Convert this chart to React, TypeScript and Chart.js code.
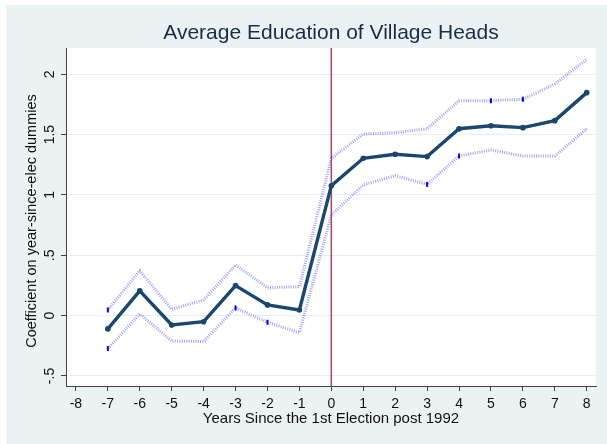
import React, { useEffect, useRef } from "react";
import { Chart, registerables } from "chart.js";

Chart.register(...registerables);

// Event-study coefficients by years since the first election after 1992
const years = [-7, -6, -5, -4, -3, -2, -1, 0, 1, 2, 3, 4, 5, 6, 7, 8];
const coef = [-0.11, 0.205, -0.077, -0.05, 0.249, 0.089, 0.047, 1.077, 1.304, 1.337, 1.318, 1.549, 1.574, 1.558, 1.616, 1.848];
const upperCI = [0.047, 0.373, 0.053, 0.13, 0.42, 0.232, 0.24, 1.304, 1.505, 1.516, 1.549, 1.781, 1.781, 1.793, 1.92, 2.124];
const lowerCI = [-0.273, 0.014, -0.21, -0.215, 0.064, -0.055, -0.141, 0.834, 1.083, 1.16, 1.088, 1.323, 1.373, 1.323, 1.323, 1.549];

// Vertices of the confidence bands that carry a small tick mark
const upperMarks = [-7, 5, 6];
const lowerMarks = [-7, -3, -2, 3, 4];

const xTicks = [-8, -7, -6, -5, -4, -3, -2, -1, 0, 1, 2, 3, 4, 5, 6, 7, 8];
const yTicks = [-0.5, 0, 0.5, 1, 1.5, 2];
const yTickLabels = ["-.5", "0", ".5", "1", "1.5", "2"];
const electionYear = 0;

const chartTitle = "Average Education of Village Heads";
const xTitle = "Years Since the 1st Election post 1992";
const yTitle = "Coefficient on year-since-elec dummies";

const FONT = '"Liberation Sans", Arial, Helvetica, sans-serif';
const NAVY = "#1a476f";
const BAND = "rgba(70, 70, 255, 0.5)";
const PANEL = "#eaf2f3";

const toPoints = (vals: number[]) => years.map((x, i) => ({ x, y: vals[i] }));
const markRadius = (marks: number[]) => years.map((x) => (marks.includes(x) ? 2.5 : 0));

const decorations = {
  id: "decorations",
  beforeDraw(chart: any) {
    const { ctx, chartArea, width, height } = chart;
    ctx.save();
    ctx.fillStyle = "#ffffff";
    ctx.fillRect(0, 0, width, height);
    ctx.fillStyle = PANEL;
    ctx.fillRect(6, 5, width - 6, height - 5);
    ctx.fillStyle = "#ffffff";
    ctx.fillRect(chartArea.left, chartArea.top, chartArea.right - chartArea.left, chartArea.bottom - chartArea.top);
    ctx.restore();
  },
  beforeDatasetsDraw(chart: any) {
    const { ctx, chartArea, scales } = chart;
    const px = scales.x.getPixelForValue(electionYear);
    ctx.save();
    ctx.strokeStyle = "#c8385a";
    ctx.lineWidth = 1.5;
    ctx.beginPath();
    ctx.moveTo(px, chartArea.top);
    ctx.lineTo(px, chartArea.bottom);
    ctx.stroke();
    ctx.restore();
  },
  afterDraw(chart: any) {
    const { ctx, chartArea, scales } = chart;
    const cx = (chartArea.left + chartArea.right) / 2;
    const cy = (chartArea.top + chartArea.bottom) / 2;
    ctx.save();
    ctx.textAlign = "center";
    ctx.textBaseline = "middle";

    // title
    ctx.fillStyle = "#1c2b4a";
    ctx.font = `21px ${FONT}`;
    ctx.fillText(chartTitle, cx, 33);

    // rotated y tick labels
    ctx.fillStyle = "#111111";
    ctx.font = `14px ${FONT}`;
    yTicks.forEach((v, i) => {
      const py = scales.y.getPixelForValue(v);
      ctx.save();
      ctx.translate(chartArea.left - 16, py);
      ctx.rotate(-Math.PI / 2);
      ctx.fillText(yTickLabels[i], 0, 0);
      ctx.restore();
    });

    // axis titles
    ctx.font = `15px ${FONT}`;
    ctx.fillText(xTitle, cx, 419);
    ctx.save();
    ctx.translate(32, cy + 4);
    ctx.rotate(-Math.PI / 2);
    ctx.font = `14.5px ${FONT}`;
    ctx.fillText(yTitle, 0, 0);
    ctx.restore();

    ctx.restore();
  },
};

export default function App() {
  const canvasRef = useRef<HTMLCanvasElement | null>(null);

  useEffect(() => {
    document.body.style.margin = "0";
    const canvas = canvasRef.current;
    if (!canvas) return;

    const chart = new Chart(canvas, {
      type: "line",
      data: {
        datasets: [
          {
            label: "Upper CI",
            data: toPoints(upperCI),
            borderColor: BAND,
            borderWidth: 3,
            borderDash: [1, 1.3],
            pointStyle: "line",
            rotation: 90,
            pointRadius: markRadius(upperMarks),
            pointBorderColor: "#0000ff",
            pointBorderWidth: 2,
            order: 2,
          },
          {
            label: "Lower CI",
            data: toPoints(lowerCI),
            borderColor: BAND,
            borderWidth: 3,
            borderDash: [1, 1.3],
            pointStyle: "line",
            rotation: 90,
            pointRadius: markRadius(lowerMarks),
            pointBorderColor: "#0000ff",
            pointBorderWidth: 2,
            order: 2,
          },
          {
            label: "Coefficient",
            data: toPoints(coef),
            borderColor: NAVY,
            borderWidth: 3.4,
            pointRadius: 2.8,
            pointBackgroundColor: NAVY,
            pointBorderWidth: 0,
            order: 1,
          },
        ],
      },
      options: {
        responsive: false,
        animation: false,
        devicePixelRatio: 1,
        events: [],
        layout: { padding: { top: 48, right: 11, left: 0, bottom: 0 } },
        plugins: {
          legend: { display: false },
          title: { display: false },
          tooltip: { enabled: false },
        },
        scales: {
          x: {
            type: "linear",
            min: -8.31,
            max: 8.29,
            afterBuildTicks: (scale: any) => {
              scale.ticks = xTicks.map((value) => ({ value }));
            },
            afterFit: (scale: any) => {
              scale.height = 58;
            },
            grid: {
              drawOnChartArea: false,
              drawTicks: true,
              tickLength: 5,
              tickColor: "#444444",
            },
            border: { display: true, color: "#444444", width: 1 },
            ticks: {
              autoSkip: false,
              maxRotation: 0,
              padding: 5,
              color: "#111111",
              font: { family: FONT, size: 14 },
              callback: (v: any) => String(v),
            },
          },
          y: {
            type: "linear",
            min: -0.583,
            max: 2.218,
            afterBuildTicks: (scale: any) => {
              scale.ticks = yTicks.map((value) => ({ value }));
            },
            afterFit: (scale: any) => {
              scale.width = 66;
            },
            grid: {
              color: "#e6eef1",
              lineWidth: 1,
              drawTicks: true,
              tickLength: 5,
              tickColor: "#444444",
            },
            border: { display: true, color: "#444444", width: 1 },
            ticks: { display: false },
          },
        },
      },
      plugins: [decorations],
    });

    return () => chart.destroy();
  }, []);

  return <canvas ref={canvasRef} width={607} height={444} style={{ display: "block" }} />;
}
